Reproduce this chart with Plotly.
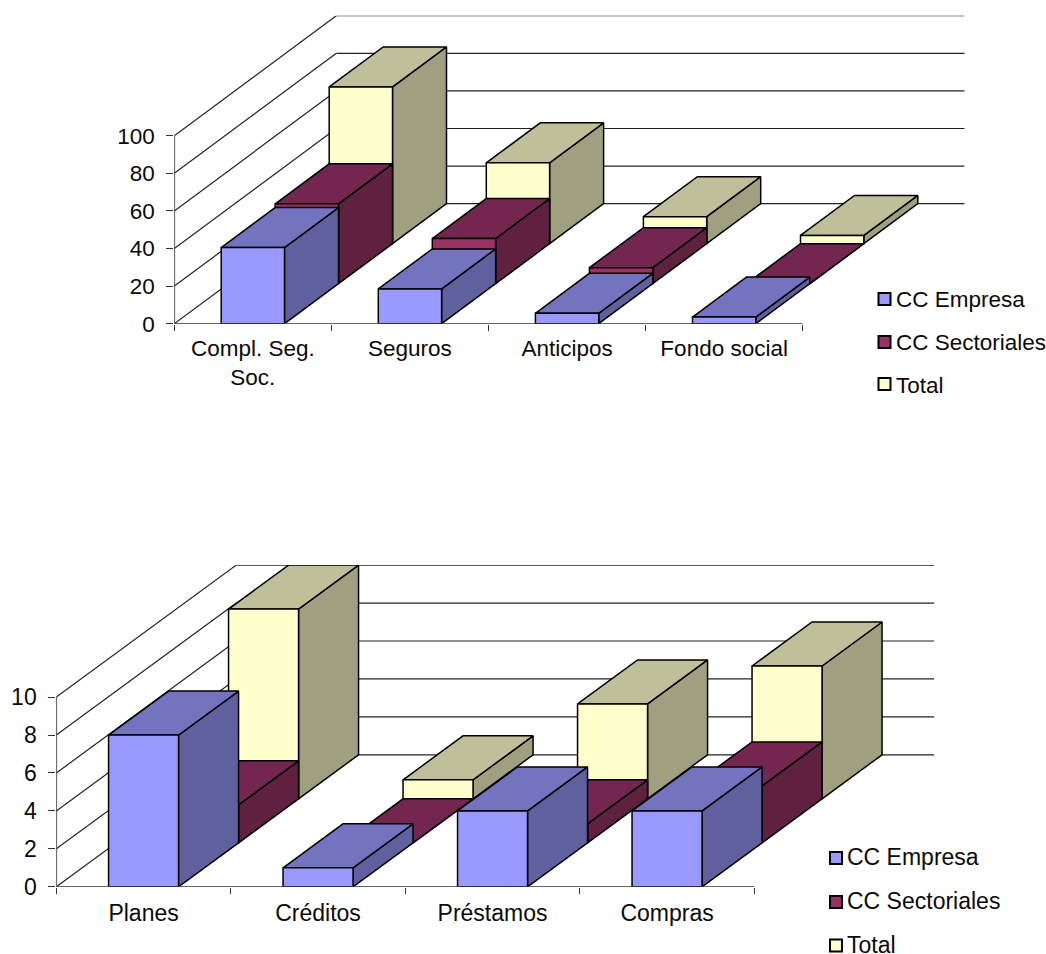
import plotly.graph_objects as go

W, H = 1046, 954
FONT = "Liberation Sans"

# ---- data
series_names = ["CC Empresa", "CC Sectoriales", "Total"]
cats_top = ["Compl. Seg.<br>Soc.", "Seguros", "Anticipos", "Fondo social"]
empresa_top = [40.5, 18.5, 5.5, 3.5]
sectoriales_top = [42.5, 24, 8.5, 0]
total_top = [83.4, 43, 14.4, 4.4]
ticks_top = [0, 20, 40, 60, 80, 100]

cats_bot = ["Planes", "Créditos", "Préstamos", "Compras"]
empresa_bot = [8, 1, 4, 4]
sectoriales_bot = [2, 0, 1, 3]
total_bot = [10, 1, 5, 7]
ticks_bot = [0, 2, 4, 6, 8, 10]

# colours per series: front, top, side
front = ["#9999FF", "#993366", "#FFFFCC"]
topc = ["#7373BF", "#732650", "#BFBF99"]
side = ["#60609F", "#602040", "#A0A080"]
EDGE = "#000000"
GRID = "#222222"
AXIS = "#333333"
TEXT = "#0a0a0a"

fig = go.Figure()


def add_chart(n, cats, values, ticks, left, floor_y, cat_px, unit_px, dep_x_px, dep_y_px,
              bar_px, legend_x, legend_y, gap, x_standoff, swatch_x, swatch_ys, fs):
    """left/floor_y: pixel position of the front origin."""
    xa, ya = ("x", "y") if n == 1 else (f"x{n}", f"y{n}")
    leg = "legend" if n == 1 else f"legend{n}"
    k = len(cats)
    dx = dep_x_px / cat_px          # depth of a series in category units
    dy = dep_y_px / unit_px         # depth of a series in value units
    bw = bar_px / cat_px
    m = len(values)
    DX, DY = m * dx, m * dy
    vmax = ticks[-1]
    common = dict(xaxis=xa, yaxis=ya, showlegend=False, hoverinfo="skip", cliponaxis=False)

    # walls
    wx, wy, bx, by = [], [], [], []
    for t in ticks:
        wx += [0, DX, None]
        wy += [t, t + DY, None]
        bx += [DX, k + DX, None]
        by += [t + DY, t + DY, None]
    fig.add_trace(go.Scatter(x=wx + bx, y=wy + by, mode="lines",
                             line=dict(color=GRID, width=1.2), **common))

    # bars, back series first, faces side -> top -> front
    for s in range(m - 1, -1, -1):
        ox, oy = s * dx, s * dy
        faces = {"side": ([], []), "top": ([], []), "front": ([], [])}
        for i, v in enumerate(values[s]):
            x0 = i + (1 - bw) / 2 + ox
            x1 = x0 + bw
            b, t = oy, v + oy
            fx, fy = faces["side"]
            fx += [x1, x1 + dx, x1 + dx, x1, x1, None]
            fy += [b, b + dy, t + dy, t, b, None]
            fx, fy = faces["top"]
            fx += [x0, x1, x1 + dx, x0 + dx, x0, None]
            fy += [t, t, t + dy, t + dy, t, None]
            fx, fy = faces["front"]
            fx += [x0, x1, x1, x0, x0, None]
            fy += [b, b, t, t, b, None]
        for name, col in (("side", side[s]), ("top", topc[s]), ("front", front[s])):
            fx, fy = faces[name]
            fig.add_trace(go.Scatter(x=fx, y=fy, mode="lines", fill="toself", fillcolor=col,
                                     line=dict(color=EDGE, width=1.5), **common))

    # front axis lines
    fig.add_trace(go.Scatter(x=[0, 0, None, 0, k], y=[0, vmax, None, 0, 0], mode="lines",
                             line=dict(color=AXIS, width=1.6), **common))

    # legend entries (text from the legend, swatch drawn next to the text)
    for s, nm in enumerate(series_names):
        fig.add_trace(go.Scatter(x=[None], y=[None], mode="markers", name=nm, legend=leg,
                                 legendgroup=f"{n}-{s}", xaxis=xa, yaxis=ya,
                                 marker=dict(symbol="square", size=11, color="rgba(0,0,0,0)",
                                             line=dict(color="rgba(0,0,0,0)", width=0))))
        fig.add_shape(type="rect", xref="paper", yref="paper",
                      x0=swatch_x / W, x1=(swatch_x + 12) / W,
                      y0=1 - (swatch_ys[s] + 6) / H, y1=1 - (swatch_ys[s] - 6) / H,
                      fillcolor=front[s], line=dict(color="#000000", width=2))

    right = left + k * cat_px + m * dep_x_px
    top_y = floor_y - (vmax * unit_px + m * dep_y_px)
    ax_suffix = "" if n == 1 else str(n)
    fig.update_layout({
        f"xaxis{ax_suffix}": dict(
            domain=[left / W, right / W], range=[0, k + DX], anchor=ya,
            tickmode="array", tickvals=[i + 0.5 for i in range(k)], ticktext=cats,
            ticks="", showgrid=False, zeroline=False, showline=False,
            tickfont=dict(family=FONT, size=fs, color=TEXT), ticklabelstandoff=x_standoff,
            minor=dict(tickmode="array", tickvals=list(range(k + 1)), ticks="outside",
                       ticklen=6, tickwidth=1.2, tickcolor=AXIS, showgrid=False),
        ),
        f"yaxis{ax_suffix}": dict(
            domain=[1 - floor_y / H, 1 - top_y / H], range=[0, vmax + DY], anchor=xa,
            tickmode="array", tickvals=ticks, ticks="outside", ticklen=7, tickwidth=1.2,
            tickcolor=AXIS, showgrid=False, zeroline=False, showline=False,
            tickfont=dict(family=FONT, size=fs, color=TEXT), ticklabelstandoff=7,
        ),
        leg: dict(x=legend_x / W, y=1 - legend_y / H, xanchor="left", yanchor="top",
                  bgcolor="rgba(0,0,0,0)", tracegroupgap=gap, indentation=-8,
                  font=dict(family=FONT, size=fs, color=TEXT), itemwidth=30),
    })


add_chart(1, cats_top, [empresa_top, sectoriales_top, total_top], ticks_top,
          174.3, 323.7, 157.1, 1.88, 54, 40, 63.3, 864, 277, 10.8, 9, 878.5, [299, 342, 384], 22.5)
add_chart(2, cats_bot, [empresa_bot, sectoriales_bot, total_bot], ticks_bot,
          56.3, 886.8, 174.5, 18.97, 60, 44, 70, 815, 835, 11, 10, 830, [858, 902, 945.5], 23)

fig.update_layout(width=W, height=H, margin=dict(l=0, r=0, t=0, b=0, autoexpand=False),
                  paper_bgcolor="white", plot_bgcolor="white", hovermode=False)

fig.write_html("out.html", config={"displayModeBar": False},
               post_script="document.body.style.margin='0';document.body.style.overflow='hidden';")
